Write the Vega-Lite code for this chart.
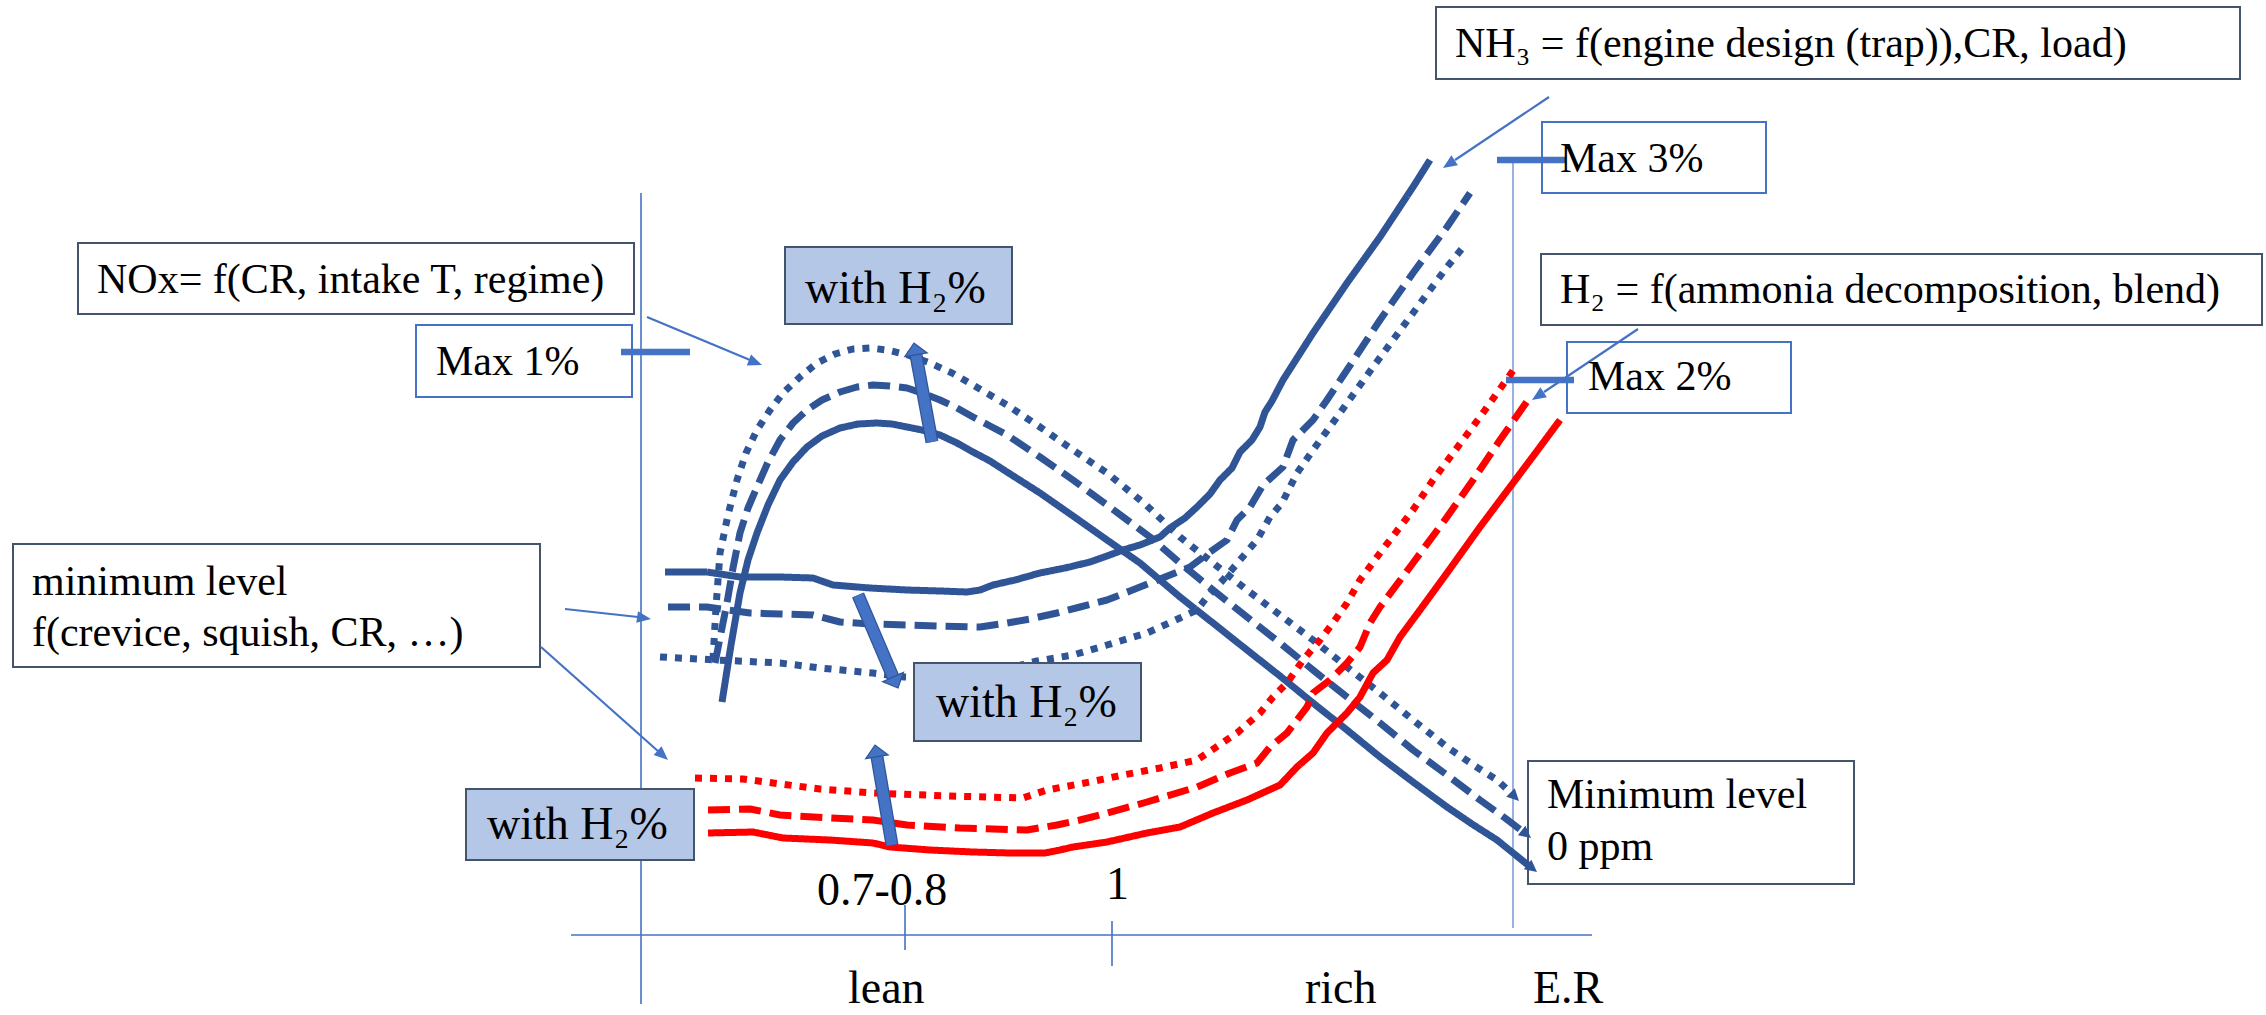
{
"$schema": "https://vega.github.io/schema/vega-lite/v6.json",
"width": 2266, "height": 1015, "autosize": {"type": "none"}, "padding": 0,
"background": "white",
"config": {"view": {"stroke": null}},
"datasets": {
"frames": [
{"b":"NOx note","kind":"note","x":78,"y":243,"x2":634,"y2":314},
{"b":"Max 1%","kind":"limit","x":416,"y":325,"x2":632,"y2":397},
{"b":"NH3 note","kind":"note","x":1436,"y":7,"x2":2240,"y2":79},
{"b":"Max 3%","kind":"limit","x":1542,"y":122,"x2":1766,"y2":193},
{"b":"H2 note","kind":"note","x":1541,"y":254,"x2":2262,"y2":325},
{"b":"Max 2%","kind":"limit","x":1567,"y":342,"x2":1791,"y2":413},
{"b":"min note","kind":"note","x":13,"y":544,"x2":540,"y2":667},
{"b":"min0 note","kind":"note","x":1528,"y":761,"x2":1854,"y2":884},
{"b":"h2 top","kind":"h2","x":785,"y":247,"x2":1012,"y2":324},
{"b":"h2 mid","kind":"h2","x":914,"y":663,"x2":1141,"y2":741},
{"b":"h2 low","kind":"h2","x":466,"y":789,"x2":694,"y2":860}
],
"segments": [
{"seg":"y axis","role":"axis","x":641,"y":193,"x2":641,"y2":1004},
{"seg":"x axis","role":"axis","x":571,"y":935,"x2":1592,"y2":935},
{"seg":"ER line","role":"thin","x":1513,"y":160,"x2":1513,"y2":928},
{"seg":"tick 0.75","role":"axis","x":905,"y":905,"x2":905,"y2":950},
{"seg":"tick 1","role":"axis","x":1112,"y":921,"x2":1112,"y2":966},
{"seg":"max 1","role":"marker","x":621,"y":352,"x2":690,"y2":352},
{"seg":"max 3","role":"marker","x":1497,"y":160,"x2":1566,"y2":160},
{"seg":"max 2","role":"marker","x":1506,"y":380,"x2":1574,"y2":380},
{"seg":"NOx arrow","role":"arrow","x":647,"y":317,"x2":750,"y2":360},
{"seg":"min arrow 1","role":"arrow","x":565,"y":609,"x2":638,"y2":617},
{"seg":"min arrow 2","role":"arrow","x":541,"y":647,"x2":659,"y2":752},
{"seg":"NH3 arrow","role":"arrow","x":1549,"y":97,"x2":1455,"y2":160},
{"seg":"H2 arrow","role":"arrow","x":1638,"y":329,"x2":1544,"y2":392}
],
"heads": [
{"h":"NOx arrow","kind":"thin","x":762,"y":365,"fx":749,"fy":360},
{"h":"min arrow 1","kind":"thin","x":651,"y":619,"fx":637,"fy":617},
{"h":"min arrow 2","kind":"thin","x":668,"y":760,"fx":658,"fy":751},
{"h":"NH3 arrow","kind":"thin","x":1443,"y":168,"fx":1455,"fy":160},
{"h":"H2 arrow","kind":"thin","x":1532,"y":400,"fx":1544,"fy":392},
{"h":"NOx none","kind":"curve","x":1537,"y":872,"fx":1527,"fy":864},
{"h":"NOx some","kind":"curve","x":1531,"y":838,"fx":1521,"fy":830},
{"h":"NOx more","kind":"curve","x":1519,"y":801,"fx":1510,"fy":792},
{"h":"H2 up NOx","kind":"block","x":914,"y":343,"fx":916,"fy":355},
{"h":"H2 down min","kind":"block","x":898,"y":688,"fx":893,"fy":677},
{"h":"H2 up H2","kind":"block","x":875,"y":745,"fx":877,"fy":757}
],
"blocks": [
{"a":"H2 up NOx","x":932,"y":442,"x2":916,"y2":355},
{"a":"H2 down min","x":858,"y":595,"x2":893,"y2":677},
{"a":"H2 up H2","x":892,"y":845,"x2":877,"y2":757}
],
"curves": [
{"s":"NOx","c":"none","i":0,"x":722,"y":702},{"s":"NOx","c":"none","i":1,"x":731,"y":645},{"s":"NOx","c":"none","i":2,"x":740,"y":593},{"s":"NOx","c":"none","i":3,"x":748,"y":560},{"s":"NOx","c":"none","i":4,"x":757,"y":533},{"s":"NOx","c":"none","i":5,"x":768,"y":505},{"s":"NOx","c":"none","i":6,"x":780,"y":480},{"s":"NOx","c":"none","i":7,"x":793,"y":462},{"s":"NOx","c":"none","i":8,"x":807,"y":447},{"s":"NOx","c":"none","i":9,"x":822,"y":436},{"s":"NOx","c":"none","i":10,"x":840,"y":428},{"s":"NOx","c":"none","i":11,"x":858,"y":424},{"s":"NOx","c":"none","i":12,"x":877,"y":423},{"s":"NOx","c":"none","i":13,"x":892,"y":424},{"s":"NOx","c":"none","i":14,"x":907,"y":427},{"s":"NOx","c":"none","i":15,"x":922,"y":430},{"s":"NOx","c":"none","i":16,"x":940,"y":435},{"s":"NOx","c":"none","i":17,"x":957,"y":443},{"s":"NOx","c":"none","i":18,"x":973,"y":452},{"s":"NOx","c":"none","i":19,"x":990,"y":461},{"s":"NOx","c":"none","i":20,"x":1007,"y":472},{"s":"NOx","c":"none","i":21,"x":1040,"y":493},{"s":"NOx","c":"none","i":22,"x":1073,"y":516},{"s":"NOx","c":"none","i":23,"x":1107,"y":540},{"s":"NOx","c":"none","i":24,"x":1140,"y":563},{"s":"NOx","c":"none","i":25,"x":1180,"y":597},{"s":"NOx","c":"none","i":26,"x":1213,"y":623},{"s":"NOx","c":"none","i":27,"x":1247,"y":650},{"s":"NOx","c":"none","i":28,"x":1280,"y":676},{"s":"NOx","c":"none","i":29,"x":1313,"y":703},{"s":"NOx","c":"none","i":30,"x":1347,"y":730},{"s":"NOx","c":"none","i":31,"x":1380,"y":757},{"s":"NOx","c":"none","i":32,"x":1413,"y":782},{"s":"NOx","c":"none","i":33,"x":1447,"y":807},{"s":"NOx","c":"none","i":34,"x":1472,"y":824},{"s":"NOx","c":"none","i":35,"x":1497,"y":840},{"s":"NOx","c":"none","i":36,"x":1528,"y":865},
{"s":"NOx","c":"some","i":0,"x":715,"y":663},{"s":"NOx","c":"some","i":1,"x":721,"y":633},{"s":"NOx","c":"some","i":2,"x":727,"y":603},{"s":"NOx","c":"some","i":3,"x":733,"y":568},{"s":"NOx","c":"some","i":4,"x":740,"y":533},{"s":"NOx","c":"some","i":5,"x":748,"y":508},{"s":"NOx","c":"some","i":6,"x":757,"y":487},{"s":"NOx","c":"some","i":7,"x":768,"y":462},{"s":"NOx","c":"some","i":8,"x":780,"y":440},{"s":"NOx","c":"some","i":9,"x":793,"y":423},{"s":"NOx","c":"some","i":10,"x":807,"y":410},{"s":"NOx","c":"some","i":11,"x":822,"y":400},{"s":"NOx","c":"some","i":12,"x":840,"y":392},{"s":"NOx","c":"some","i":13,"x":857,"y":387},{"s":"NOx","c":"some","i":14,"x":873,"y":385},{"s":"NOx","c":"some","i":15,"x":890,"y":386},{"s":"NOx","c":"some","i":16,"x":907,"y":388},{"s":"NOx","c":"some","i":17,"x":922,"y":393},{"s":"NOx","c":"some","i":18,"x":940,"y":400},{"s":"NOx","c":"some","i":19,"x":957,"y":408},{"s":"NOx","c":"some","i":20,"x":973,"y":417},{"s":"NOx","c":"some","i":21,"x":990,"y":426},{"s":"NOx","c":"some","i":22,"x":1007,"y":435},{"s":"NOx","c":"some","i":23,"x":1040,"y":457},{"s":"NOx","c":"some","i":24,"x":1073,"y":480},{"s":"NOx","c":"some","i":25,"x":1107,"y":505},{"s":"NOx","c":"some","i":26,"x":1150,"y":537},{"s":"NOx","c":"some","i":27,"x":1180,"y":563},{"s":"NOx","c":"some","i":28,"x":1213,"y":590},{"s":"NOx","c":"some","i":29,"x":1247,"y":617},{"s":"NOx","c":"some","i":30,"x":1280,"y":643},{"s":"NOx","c":"some","i":31,"x":1313,"y":670},{"s":"NOx","c":"some","i":32,"x":1347,"y":697},{"s":"NOx","c":"some","i":33,"x":1380,"y":723},{"s":"NOx","c":"some","i":34,"x":1413,"y":750},{"s":"NOx","c":"some","i":35,"x":1447,"y":775},{"s":"NOx","c":"some","i":36,"x":1480,"y":800},{"s":"NOx","c":"some","i":37,"x":1505,"y":818},{"s":"NOx","c":"some","i":38,"x":1522,"y":831},
{"s":"NOx","c":"more","i":0,"x":713,"y":660},{"s":"NOx","c":"more","i":1,"x":716,"y":607},{"s":"NOx","c":"more","i":2,"x":720,"y":553},{"s":"NOx","c":"more","i":3,"x":728,"y":515},{"s":"NOx","c":"more","i":4,"x":737,"y":480},{"s":"NOx","c":"more","i":5,"x":746,"y":453},{"s":"NOx","c":"more","i":6,"x":757,"y":430},{"s":"NOx","c":"more","i":7,"x":770,"y":410},{"s":"NOx","c":"more","i":8,"x":783,"y":393},{"s":"NOx","c":"more","i":9,"x":800,"y":377},{"s":"NOx","c":"more","i":10,"x":817,"y":363},{"s":"NOx","c":"more","i":11,"x":835,"y":354},{"s":"NOx","c":"more","i":12,"x":853,"y":349},{"s":"NOx","c":"more","i":13,"x":870,"y":348},{"s":"NOx","c":"more","i":14,"x":887,"y":350},{"s":"NOx","c":"more","i":15,"x":908,"y":355},{"s":"NOx","c":"more","i":16,"x":930,"y":363},{"s":"NOx","c":"more","i":17,"x":952,"y":373},{"s":"NOx","c":"more","i":18,"x":973,"y":385},{"s":"NOx","c":"more","i":19,"x":990,"y":395},{"s":"NOx","c":"more","i":20,"x":1007,"y":405},{"s":"NOx","c":"more","i":21,"x":1040,"y":427},{"s":"NOx","c":"more","i":22,"x":1073,"y":450},{"s":"NOx","c":"more","i":23,"x":1107,"y":473},{"s":"NOx","c":"more","i":24,"x":1145,"y":504},{"s":"NOx","c":"more","i":25,"x":1180,"y":537},{"s":"NOx","c":"more","i":26,"x":1213,"y":563},{"s":"NOx","c":"more","i":27,"x":1247,"y":590},{"s":"NOx","c":"more","i":28,"x":1280,"y":615},{"s":"NOx","c":"more","i":29,"x":1313,"y":640},{"s":"NOx","c":"more","i":30,"x":1347,"y":667},{"s":"NOx","c":"more","i":31,"x":1380,"y":693},{"s":"NOx","c":"more","i":32,"x":1413,"y":720},{"s":"NOx","c":"more","i":33,"x":1447,"y":747},{"s":"NOx","c":"more","i":34,"x":1475,"y":766},{"s":"NOx","c":"more","i":35,"x":1497,"y":780},{"s":"NOx","c":"more","i":36,"x":1510,"y":792},
{"s":"NH3","c":"none","i":0,"x":665,"y":572},{"s":"NH3","c":"none","i":1,"x":707,"y":572},{"s":"NH3","c":"none","i":2,"x":740,"y":577},{"s":"NH3","c":"none","i":3,"x":780,"y":577},{"s":"NH3","c":"none","i":4,"x":813,"y":578},{"s":"NH3","c":"none","i":5,"x":833,"y":585},{"s":"NH3","c":"none","i":6,"x":870,"y":588},{"s":"NH3","c":"none","i":7,"x":907,"y":590},{"s":"NH3","c":"none","i":8,"x":940,"y":591},{"s":"NH3","c":"none","i":9,"x":967,"y":592},{"s":"NH3","c":"none","i":10,"x":980,"y":590},{"s":"NH3","c":"none","i":11,"x":993,"y":585},{"s":"NH3","c":"none","i":12,"x":1015,"y":580},{"s":"NH3","c":"none","i":13,"x":1040,"y":573},{"s":"NH3","c":"none","i":14,"x":1065,"y":568},{"s":"NH3","c":"none","i":15,"x":1090,"y":562},{"s":"NH3","c":"none","i":16,"x":1107,"y":556},{"s":"NH3","c":"none","i":17,"x":1123,"y":550},{"s":"NH3","c":"none","i":18,"x":1140,"y":545},{"s":"NH3","c":"none","i":19,"x":1160,"y":537},{"s":"NH3","c":"none","i":20,"x":1170,"y":528},{"s":"NH3","c":"none","i":21,"x":1185,"y":518},{"s":"NH3","c":"none","i":22,"x":1197,"y":507},{"s":"NH3","c":"none","i":23,"x":1210,"y":494},{"s":"NH3","c":"none","i":24,"x":1220,"y":480},{"s":"NH3","c":"none","i":25,"x":1232,"y":468},{"s":"NH3","c":"none","i":26,"x":1240,"y":452},{"s":"NH3","c":"none","i":27,"x":1252,"y":440},{"s":"NH3","c":"none","i":28,"x":1260,"y":427},{"s":"NH3","c":"none","i":29,"x":1265,"y":412},{"s":"NH3","c":"none","i":30,"x":1272,"y":401},{"s":"NH3","c":"none","i":31,"x":1283,"y":380},{"s":"NH3","c":"none","i":32,"x":1313,"y":333},{"s":"NH3","c":"none","i":33,"x":1347,"y":283},{"s":"NH3","c":"none","i":34,"x":1380,"y":237},{"s":"NH3","c":"none","i":35,"x":1413,"y":187},{"s":"NH3","c":"none","i":36,"x":1430,"y":160},
{"s":"NH3","c":"some","i":0,"x":668,"y":607},{"s":"NH3","c":"some","i":1,"x":707,"y":607},{"s":"NH3","c":"some","i":2,"x":750,"y":613},{"s":"NH3","c":"some","i":3,"x":780,"y":614},{"s":"NH3","c":"some","i":4,"x":813,"y":615},{"s":"NH3","c":"some","i":5,"x":840,"y":622},{"s":"NH3","c":"some","i":6,"x":870,"y":624},{"s":"NH3","c":"some","i":7,"x":907,"y":625},{"s":"NH3","c":"some","i":8,"x":940,"y":626},{"s":"NH3","c":"some","i":9,"x":980,"y":627},{"s":"NH3","c":"some","i":10,"x":1007,"y":623},{"s":"NH3","c":"some","i":11,"x":1030,"y":619},{"s":"NH3","c":"some","i":12,"x":1057,"y":613},{"s":"NH3","c":"some","i":13,"x":1080,"y":607},{"s":"NH3","c":"some","i":14,"x":1107,"y":600},{"s":"NH3","c":"some","i":15,"x":1130,"y":591},{"s":"NH3","c":"some","i":16,"x":1160,"y":579},{"s":"NH3","c":"some","i":17,"x":1190,"y":567},{"s":"NH3","c":"some","i":18,"x":1210,"y":552},{"s":"NH3","c":"some","i":19,"x":1227,"y":540},{"s":"NH3","c":"some","i":20,"x":1237,"y":520},{"s":"NH3","c":"some","i":21,"x":1250,"y":507},{"s":"NH3","c":"some","i":22,"x":1263,"y":485},{"s":"NH3","c":"some","i":23,"x":1283,"y":467},{"s":"NH3","c":"some","i":24,"x":1293,"y":440},{"s":"NH3","c":"some","i":25,"x":1313,"y":420},{"s":"NH3","c":"some","i":26,"x":1327,"y":400},{"s":"NH3","c":"some","i":27,"x":1347,"y":370},{"s":"NH3","c":"some","i":28,"x":1380,"y":320},{"s":"NH3","c":"some","i":29,"x":1413,"y":273},{"s":"NH3","c":"some","i":30,"x":1447,"y":227},{"s":"NH3","c":"some","i":31,"x":1470,"y":193},
{"s":"NH3","c":"more","i":0,"x":660,"y":657},{"s":"NH3","c":"more","i":1,"x":717,"y":660},{"s":"NH3","c":"more","i":2,"x":780,"y":663},{"s":"NH3","c":"more","i":3,"x":820,"y":668},{"s":"NH3","c":"more","i":4,"x":873,"y":673},{"s":"NH3","c":"more","i":5,"x":904,"y":677},{"s":"NH3","c":"more","i":6,"x":940,"y":678},{"s":"NH3","c":"more","i":7,"x":980,"y":676},{"s":"NH3","c":"more","i":8,"x":1010,"y":668},{"s":"NH3","c":"more","i":9,"x":1037,"y":661},{"s":"NH3","c":"more","i":10,"x":1073,"y":655},{"s":"NH3","c":"more","i":11,"x":1107,"y":645},{"s":"NH3","c":"more","i":12,"x":1147,"y":633},{"s":"NH3","c":"more","i":13,"x":1180,"y":618},{"s":"NH3","c":"more","i":14,"x":1197,"y":610},{"s":"NH3","c":"more","i":15,"x":1207,"y":597},{"s":"NH3","c":"more","i":16,"x":1223,"y":580},{"s":"NH3","c":"more","i":17,"x":1240,"y":560},{"s":"NH3","c":"more","i":18,"x":1257,"y":540},{"s":"NH3","c":"more","i":19,"x":1270,"y":517},{"s":"NH3","c":"more","i":20,"x":1282,"y":503},{"s":"NH3","c":"more","i":21,"x":1297,"y":473},{"s":"NH3","c":"more","i":22,"x":1313,"y":450},{"s":"NH3","c":"more","i":23,"x":1340,"y":413},{"s":"NH3","c":"more","i":24,"x":1373,"y":367},{"s":"NH3","c":"more","i":25,"x":1413,"y":313},{"s":"NH3","c":"more","i":26,"x":1447,"y":267},{"s":"NH3","c":"more","i":27,"x":1465,"y":245},
{"s":"H2","c":"none","i":0,"x":708,"y":833},{"s":"H2","c":"none","i":1,"x":753,"y":832},{"s":"H2","c":"none","i":2,"x":783,"y":838},{"s":"H2","c":"none","i":3,"x":830,"y":840},{"s":"H2","c":"none","i":4,"x":873,"y":843},{"s":"H2","c":"none","i":5,"x":890,"y":847},{"s":"H2","c":"none","i":6,"x":930,"y":850},{"s":"H2","c":"none","i":7,"x":973,"y":852},{"s":"H2","c":"none","i":8,"x":1010,"y":853},{"s":"H2","c":"none","i":9,"x":1045,"y":853},{"s":"H2","c":"none","i":10,"x":1060,"y":850},{"s":"H2","c":"none","i":11,"x":1073,"y":847},{"s":"H2","c":"none","i":12,"x":1107,"y":842},{"s":"H2","c":"none","i":13,"x":1147,"y":833},{"s":"H2","c":"none","i":14,"x":1180,"y":827},{"s":"H2","c":"none","i":15,"x":1213,"y":813},{"s":"H2","c":"none","i":16,"x":1247,"y":800},{"s":"H2","c":"none","i":17,"x":1280,"y":785},{"s":"H2","c":"none","i":18,"x":1297,"y":767},{"s":"H2","c":"none","i":19,"x":1313,"y":753},{"s":"H2","c":"none","i":20,"x":1327,"y":733},{"s":"H2","c":"none","i":21,"x":1347,"y":713},{"s":"H2","c":"none","i":22,"x":1360,"y":697},{"s":"H2","c":"none","i":23,"x":1373,"y":673},{"s":"H2","c":"none","i":24,"x":1387,"y":660},{"s":"H2","c":"none","i":25,"x":1400,"y":637},{"s":"H2","c":"none","i":26,"x":1420,"y":610},{"s":"H2","c":"none","i":27,"x":1447,"y":573},{"s":"H2","c":"none","i":28,"x":1480,"y":527},{"s":"H2","c":"none","i":29,"x":1513,"y":483},{"s":"H2","c":"none","i":30,"x":1537,"y":451},{"s":"H2","c":"none","i":31,"x":1560,"y":420},
{"s":"H2","c":"some","i":0,"x":708,"y":810},{"s":"H2","c":"some","i":1,"x":750,"y":809},{"s":"H2","c":"some","i":2,"x":780,"y":815},{"s":"H2","c":"some","i":3,"x":830,"y":818},{"s":"H2","c":"some","i":4,"x":873,"y":820},{"s":"H2","c":"some","i":5,"x":907,"y":825},{"s":"H2","c":"some","i":6,"x":960,"y":828},{"s":"H2","c":"some","i":7,"x":1027,"y":830},{"s":"H2","c":"some","i":8,"x":1057,"y":825},{"s":"H2","c":"some","i":9,"x":1080,"y":820},{"s":"H2","c":"some","i":10,"x":1107,"y":813},{"s":"H2","c":"some","i":11,"x":1147,"y":802},{"s":"H2","c":"some","i":12,"x":1197,"y":787},{"s":"H2","c":"some","i":13,"x":1230,"y":773},{"s":"H2","c":"some","i":14,"x":1257,"y":763},{"s":"H2","c":"some","i":15,"x":1270,"y":747},{"s":"H2","c":"some","i":16,"x":1287,"y":733},{"s":"H2","c":"some","i":17,"x":1297,"y":720},{"s":"H2","c":"some","i":18,"x":1307,"y":707},{"s":"H2","c":"some","i":19,"x":1313,"y":693},{"s":"H2","c":"some","i":20,"x":1330,"y":680},{"s":"H2","c":"some","i":21,"x":1347,"y":663},{"s":"H2","c":"some","i":22,"x":1360,"y":647},{"s":"H2","c":"some","i":23,"x":1370,"y":623},{"s":"H2","c":"some","i":24,"x":1380,"y":607},{"s":"H2","c":"some","i":25,"x":1413,"y":563},{"s":"H2","c":"some","i":26,"x":1447,"y":517},{"s":"H2","c":"some","i":27,"x":1473,"y":480},{"s":"H2","c":"some","i":28,"x":1500,"y":440},{"s":"H2","c":"some","i":29,"x":1528,"y":400},
{"s":"H2","c":"more","i":0,"x":695,"y":778},{"s":"H2","c":"more","i":1,"x":743,"y":779},{"s":"H2","c":"more","i":2,"x":773,"y":783},{"s":"H2","c":"more","i":3,"x":820,"y":789},{"s":"H2","c":"more","i":4,"x":873,"y":793},{"s":"H2","c":"more","i":5,"x":950,"y":796},{"s":"H2","c":"more","i":6,"x":1023,"y":798},{"s":"H2","c":"more","i":7,"x":1047,"y":790},{"s":"H2","c":"more","i":8,"x":1090,"y":782},{"s":"H2","c":"more","i":9,"x":1123,"y":775},{"s":"H2","c":"more","i":10,"x":1160,"y":768},{"s":"H2","c":"more","i":11,"x":1197,"y":760},{"s":"H2","c":"more","i":12,"x":1237,"y":733},{"s":"H2","c":"more","i":13,"x":1260,"y":713},{"s":"H2","c":"more","i":14,"x":1273,"y":697},{"s":"H2","c":"more","i":15,"x":1287,"y":683},{"s":"H2","c":"more","i":16,"x":1303,"y":660},{"s":"H2","c":"more","i":17,"x":1320,"y":640},{"s":"H2","c":"more","i":18,"x":1333,"y":623},{"s":"H2","c":"more","i":19,"x":1347,"y":603},{"s":"H2","c":"more","i":20,"x":1360,"y":580},{"s":"H2","c":"more","i":21,"x":1380,"y":553},{"s":"H2","c":"more","i":22,"x":1413,"y":510},{"s":"H2","c":"more","i":23,"x":1433,"y":480},{"s":"H2","c":"more","i":24,"x":1480,"y":417},{"s":"H2","c":"more","i":25,"x":1517,"y":365}
],
"texts": [
{"t":"NOx= f(CR, intake T, regime)","role":"note","x":97,"y":293},
{"t":"Max 1%","role":"note","x":436,"y":375},
{"t":"NH₃ = f(engine design (trap)),CR, load)","role":"note","x":1455,"y":57},
{"t":"Max 3%","role":"note","x":1560,"y":172},
{"t":"H₂ = f(ammonia decomposition, blend)","role":"note","x":1560,"y":303},
{"t":"Max 2%","role":"note","x":1588,"y":390},
{"t":"minimum level","role":"note","x":32,"y":595},
{"t":"f(crevice, squish, CR, …)","role":"note","x":32,"y":646},
{"t":"Minimum level","role":"note","x":1547,"y":808},
{"t":"0 ppm","role":"note","x":1547,"y":860},
{"t":"with H₂%","role":"h2","x":805,"y":303},
{"t":"with H₂%","role":"h2","x":936,"y":717},
{"t":"with H₂%","role":"h2","x":487,"y":839},
{"t":"0.7-0.8","role":"axis","x":817,"y":905},
{"t":"1","role":"axis","x":1106,"y":899},
{"t":"lean","role":"axis","x":848,"y":1003},
{"t":"rich","role":"axis","x":1305,"y":1003},
{"t":"E.R","role":"axis","x":1533,"y":1003}
]
},
"encoding": {
"x": {"field": "x", "type": "quantitative", "scale": {"domain": [0, 2266], "nice": false, "zero": false}, "axis": null},
"y": {"field": "y", "type": "quantitative", "scale": {"domain": [0, 1015], "reverse": true, "nice": false, "zero": false}, "axis": null}
},
"layer": [
{"data": {"name": "frames"}, "transform": [{"filter": "datum.kind == 'note'"}],
 "mark": {"type": "rect", "fill": "#FFFFFF", "stroke": "#44546A", "strokeWidth": 2},
 "encoding": {"x2": {"field": "x2"}, "y2": {"field": "y2"}}},
{"data": {"name": "frames"}, "transform": [{"filter": "datum.kind == 'limit'"}],
 "mark": {"type": "rect", "fill": "#FFFFFF", "stroke": "#4472C4", "strokeWidth": 2},
 "encoding": {"x2": {"field": "x2"}, "y2": {"field": "y2"}}},
{"data": {"name": "segments"}, "transform": [{"filter": "datum.role == 'axis'"}],
 "mark": {"type": "rule", "color": "#4472C4", "strokeWidth": 1.6, "strokeCap": "butt"},
 "encoding": {"x2": {"field": "x2"}, "y2": {"field": "y2"}}},
{"data": {"name": "segments"}, "transform": [{"filter": "datum.role == 'thin'"}],
 "mark": {"type": "rule", "color": "#4472C4", "strokeWidth": 1.1, "strokeCap": "butt"},
 "encoding": {"x2": {"field": "x2"}, "y2": {"field": "y2"}}},
{"data": {"name": "segments"}, "transform": [{"filter": "datum.role == 'arrow'"}],
 "mark": {"type": "rule", "color": "#4472C4", "strokeWidth": 2.2, "strokeCap": "butt"},
 "encoding": {"x2": {"field": "x2"}, "y2": {"field": "y2"}}},
{"data": {"name": "segments"}, "transform": [{"filter": "datum.role == 'marker'"}],
 "mark": {"type": "rule", "color": "#4472C4", "strokeWidth": 6.5, "strokeCap": "butt"},
 "encoding": {"x2": {"field": "x2"}, "y2": {"field": "y2"}}},
{"data": {"name": "curves"},
 "mark": {"type": "line", "strokeWidth": 7, "strokeCap": "butt", "strokeJoin": "round"},
 "encoding": {
  "color": {"field": "s", "type": "nominal", "scale": {"domain": ["NOx", "NH3", "H2"], "range": ["#2F5597", "#2F5597", "#FF0000"]}, "legend": null},
  "strokeDash": {"field": "c", "type": "nominal", "scale": {"domain": ["none", "some", "more"], "range": [[1, 0], [22, 9], [7, 8]]}, "legend": null},
  "order": {"field": "i", "type": "quantitative"}}},
{"data": {"name": "heads"}, "transform": [{"filter": "datum.kind == 'curve'"}, {"calculate": "atan2(datum.x - datum.fx, -(datum.y - datum.fy)) * 180 / PI", "as": "ang"}],
 "mark": {"type": "point", "shape": "M0,0L-0.5,1L0.5,1Z", "size": 576, "filled": true, "fill": "#2F5597", "opacity": 1},
 "encoding": {"angle": {"field": "ang", "type": "quantitative", "scale": null}}},
{"data": {"name": "heads"}, "transform": [{"filter": "datum.kind == 'thin'"}, {"calculate": "atan2(datum.x - datum.fx, -(datum.y - datum.fy)) * 180 / PI", "as": "ang"}],
 "mark": {"type": "point", "shape": "M0,0L-0.42,1L0.42,1Z", "size": 784, "filled": true, "fill": "#4472C4", "opacity": 1},
 "encoding": {"angle": {"field": "ang", "type": "quantitative", "scale": null}}},
{"data": {"name": "blocks"},
 "mark": {"type": "rule", "color": "#2F5597", "strokeWidth": 13, "strokeCap": "butt"},
 "encoding": {"x2": {"field": "x2"}, "y2": {"field": "y2"}}},
{"data": {"name": "blocks"},
 "mark": {"type": "rule", "color": "#4472C4", "strokeWidth": 10.5, "strokeCap": "butt"},
 "encoding": {"x2": {"field": "x2"}, "y2": {"field": "y2"}}},
{"data": {"name": "heads"}, "transform": [{"filter": "datum.kind == 'block'"}, {"calculate": "atan2(datum.x - datum.fx, -(datum.y - datum.fy)) * 180 / PI", "as": "ang"}],
 "mark": {"type": "point", "shape": "M0,0L-0.95,1L0.95,1Z", "size": 576, "filled": true, "fill": "#4472C4", "stroke": "#2F5597", "strokeWidth": 1.2, "opacity": 1},
 "encoding": {"angle": {"field": "ang", "type": "quantitative", "scale": null}}},
{"data": {"name": "frames"}, "transform": [{"filter": "datum.kind == 'h2'"}],
 "mark": {"type": "rect", "fill": "#B4C7E7", "stroke": "#44546A", "strokeWidth": 2},
 "encoding": {"x2": {"field": "x2"}, "y2": {"field": "y2"}}},
{"data": {"name": "texts"}, "transform": [{"filter": "datum.role == 'note'"}],
 "mark": {"type": "text", "align": "left", "baseline": "alphabetic", "font": "Liberation Serif", "fontSize": 42, "fill": "#000000"},
 "encoding": {"text": {"field": "t"}}},
{"data": {"name": "texts"}, "transform": [{"filter": "datum.role == 'h2'"}],
 "mark": {"type": "text", "align": "left", "baseline": "alphabetic", "font": "Liberation Serif", "fontSize": 46, "fill": "#000000"},
 "encoding": {"text": {"field": "t"}}},
{"data": {"name": "texts"}, "transform": [{"filter": "datum.role == 'axis'"}],
 "mark": {"type": "text", "align": "left", "baseline": "alphabetic", "font": "Liberation Serif", "fontSize": 46, "fill": "#000000"},
 "encoding": {"text": {"field": "t"}}}
]
}
